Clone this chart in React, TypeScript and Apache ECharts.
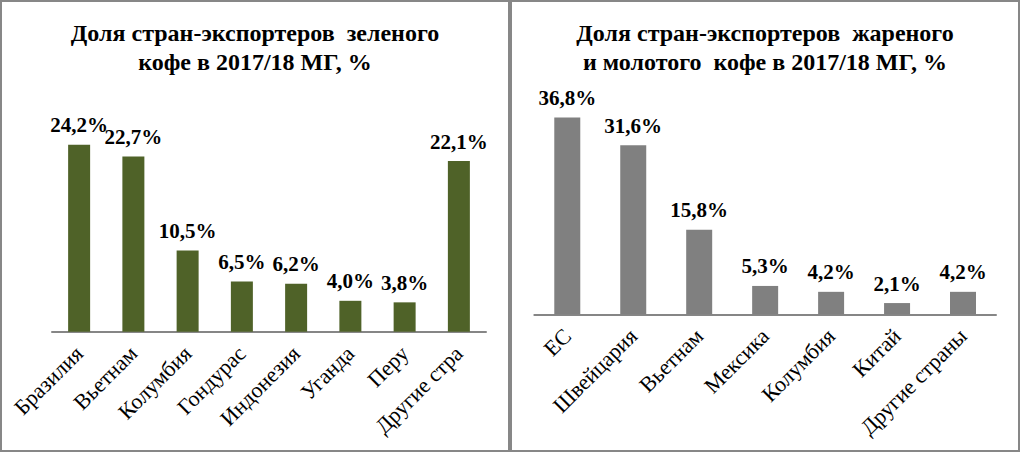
import React, { useEffect, useRef } from "react";
import * as echarts from "echarts";

const greenCategories = ["Бразилия", "Вьетнам", "Колумбия", "Гондурас", "Индонезия", "Уганда", "Перу", "Другие стра"];
const greenValues = [24.2, 22.7, 10.5, 6.5, 6.2, 4.0, 3.8, 22.1];

const roastCategories = ["ЕС", "Швейцария", "Вьетнам", "Мексика", "Колумбия", "Китай", "Другие страны"];
const roastValues = [36.8, 31.6, 15.8, 5.3, 4.2, 2.1, 4.2];

const leftTitle = "Доля стран-экспортеров  зеленого\nкофе в 2017/18 МГ, %";
const rightTitle = "Доля стран-экспортеров  жареного\nи молотого  кофе в 2017/18 МГ, %";

const FONT = "Liberation Serif";

const fmt = (p: any) => `${Number(p.value).toFixed(1).replace(".", ",")}%`;

export default function App() {
  const ref = useRef<HTMLDivElement>(null);
  useEffect(() => {
    if (!ref.current) return;
    const chart = echarts.init(ref.current, null, { renderer: "svg" });
    const axisLabel = {
      rotate: 45,
      interval: 0,
      margin: 18,
      fontSize: 22,
      fontFamily: FONT,
      color: "#000",
    };
    const axisLine = { show: true, lineStyle: { color: "#868686", width: 2 } };
    const label = {
      show: true,
      position: "top" as const,
      distance: 9,
      formatter: fmt,
      fontSize: 21,
      fontWeight: "bold" as const,
      fontFamily: FONT,
      color: "#000",
    };
    const titleStyle = {
      align: "center" as const,
      verticalAlign: "middle" as const,
      fontSize: 24,
      fontWeight: "bold" as const,
      fontFamily: FONT,
      lineHeight: 29,
      fill: "#000",
    };
    chart.setOption({
      animation: false,
      backgroundColor: "#fff",
      graphic: [
        { type: "rect", shape: { x: 1, y: 1, width: 508, height: 450 }, style: { fill: "none", stroke: "#878787", lineWidth: 2 }, z: 10 },
        { type: "rect", shape: { x: 511, y: 1, width: 508, height: 450 }, style: { fill: "none", stroke: "#878787", lineWidth: 2 }, z: 10 },
        { type: "text", x: 255, y: 47.5, style: { ...titleStyle, text: leftTitle } },
        { type: "text", x: 765, y: 47.5, style: { ...titleStyle, text: rightTitle } },
      ],
      grid: [
        { left: 52, width: 434, top: 100, bottom: 120.3 },
        { left: 534.3, width: 461.7, top: 100.3, bottom: 137.7 },
      ],
      xAxis: [
        { type: "category", gridIndex: 0, data: greenCategories, axisTick: { show: false }, axisLine, axisLabel },
        { type: "category", gridIndex: 1, data: roastCategories, axisTick: { show: false }, axisLine, axisLabel },
      ],
      yAxis: [
        { type: "value", gridIndex: 0, min: 0, max: 30, show: false, splitLine: { show: false } },
        { type: "value", gridIndex: 1, min: 0, max: 40, show: false, splitLine: { show: false } },
      ],
      series: [
        { type: "bar", xAxisIndex: 0, yAxisIndex: 0, data: greenValues, barWidth: 22, itemStyle: { color: "#4F6228" }, label },
        { type: "bar", xAxisIndex: 1, yAxisIndex: 1, data: roastValues, barWidth: 26, itemStyle: { color: "#808080" }, label },
      ],
    });
    return () => chart.dispose();
  }, []);
  return <div ref={ref} style={{ position: "fixed", left: 0, top: 0, width: 1020, height: 452 }} />;
}
